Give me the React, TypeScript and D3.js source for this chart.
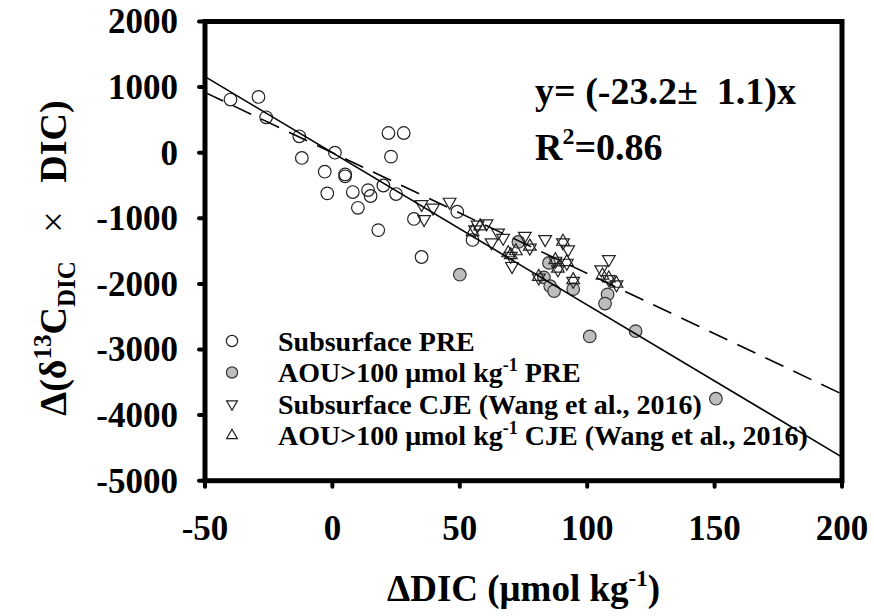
import * as d3 from "d3";

// Subsurface PRE (open circles) [ΔDIC, Δ(δ13C × DIC)]
const prePoints: [number, number][] = [
  [-40, 810], [-29, 850], [-26, 540], [-13, 250], [-12, -80], [1, 0],
  [-3, -290], [5, -330], [5, -360], [-2, -620], [8, -600], [14, -570],
  [15, -660], [10, -840], [20, -500], [25, -630], [22, 300], [28, 300],
  [23, -60], [18, -1180], [32, -1010], [35, -1590], [49, -900], [55, -1330],
];

// AOU>100 PRE (grey circles)
const aouPrePoints: [number, number][] = [
  [50, -1860], [73, -1360], [85, -1680], [83, -1900], [85.5, -2035],
  [87, -2110], [94.5, -2080], [108, -2160], [107, -2300], [101, -2800],
  [119, -2720], [150.5, -3750],
];

// Subsurface CJE (down triangles)
const cjePoints: [number, number][] = [
  [35, -785], [36, -1015], [39.5, -840], [46, -750], [56, -1170],
  [60.5, -1080], [65, -1220], [62.5, -1370], [75.5, -1270], [70, -1575],
  [70.5, -1730], [77.5, -1450], [83.5, -1320], [81, -1905], [90.5, -1370],
  [92.5, -1475], [87.5, -1650], [92, -1680], [88.5, -1780], [94.5, -1955],
  [108.5, -1625], [105.5, -1780], [108.5, -1930], [111.5, -2010],
  [57, -1100], [67, -1300],
];

// AOU>100 CJE (up triangles)
const aouCjePoints: [number, number][] = [
  [55, -1210], [58, -1120], [70, -1560], [72, -1500], [77.5, -1430],
  [81, -1890], [87.5, -1635], [90.5, -1355], [92, -1665], [88.5, -1765],
  [94.5, -1940], [108.5, -1915], [111.5, -1995], [106, -1870], [69, -1530],
];

const slopeAll = -23.2; // solid fit
const slopeCje = -18.4; // dashed fit

const xTicks = [-50, 0, 50, 100, 150, 200];
const yTicks = [2000, 1000, 0, -1000, -2000, -3000, -4000, -5000];

const W = 874;
const H = 616;
const frame = { left: 205, right: 842, top: 21.5, bottom: 480.7 };
const font = "'Liberation Serif', 'Times New Roman', serif";

export default function App() {
  const x = d3.scaleLinear().domain([-50, 200]).range([frame.left, frame.right]);
  const y = d3.scaleLinear().domain([-5000, 2000]).range([frame.bottom, frame.top]);

  const tri = d3.symbol(d3.symbolTriangle, 70)()!;
  const triSmall = d3.symbol(d3.symbolTriangle, 50)()!;

  const fitLine = (slope: number) =>
    d3.line<number>()
      .x((d) => x(d))
      .y((d) => y(slope * d))([-50, 200])!;

  const legend = [
    { kind: "open", label: ["Subsurface PRE"] },
    { kind: "grey", label: ["AOU>100 \u03bcmol kg", "-1", " PRE"] },
    { kind: "down", label: ["Subsurface CJE (Wang et al., 2016)"] },
    { kind: "up", label: ["AOU>100 \u03bcmol kg", "-1", " CJE (Wang et al., 2016)"] },
  ];

  return (
    <svg
      width={W}
      height={H}
      style={{ position: "absolute", left: 0, top: 0, background: "white" }}
      fontFamily={font}
      fontWeight="bold"
    >
      <defs>
        <clipPath id="plot">
          <rect x={frame.left} y={frame.top} width={frame.right - frame.left} height={frame.bottom - frame.top} />
        </clipPath>
      </defs>

      {/* markers */}
      <g>
        {prePoints.map((d, i) => (
          <circle key={"p" + i} cx={x(d[0])} cy={y(d[1])} r={6.3} fill="none" stroke="#222" strokeWidth={1.2} />
        ))}
        {aouPrePoints.map((d, i) => (
          <circle key={"g" + i} cx={x(d[0])} cy={y(d[1])} r={6.3} fill="#bdbdbd" stroke="#333" strokeWidth={1.2} />
        ))}
        {cjePoints.map((d, i) => (
          <path key={"d" + i} d={tri} transform={`translate(${x(d[0])},${y(d[1])}) rotate(180)`}
            fill="none" stroke="#222" strokeWidth={1.2} />
        ))}
        {aouCjePoints.map((d, i) => (
          <path key={"u" + i} d={tri} transform={`translate(${x(d[0])},${y(d[1])})`}
            fill="none" stroke="#222" strokeWidth={1.2} />
        ))}
      </g>

      {/* regression lines */}
      <g clipPath="url(#plot)">
        <path d={fitLine(slopeAll)} stroke="#000" strokeWidth={1.6} fill="none" />
        <path d={fitLine(slopeCje)} stroke="#000" strokeWidth={1.6} fill="none" strokeDasharray="20 11" />
      </g>

      {/* frame */}
      <rect x={frame.left} y={frame.top} width={frame.right - frame.left} height={frame.bottom - frame.top}
        fill="none" stroke="#000" strokeWidth={5} />

      {/* y ticks */}
      {yTicks.map((t) => (
        <g key={"yt" + t}>
          <line x1={frame.left} x2={frame.left - 6} y1={y(t)} y2={y(t)} stroke="#000" strokeWidth={4} strokeLinecap="round" />
          <text x={178} y={y(t)} dy="0.34em" textAnchor="end" fontSize={35}>{t}</text>
        </g>
      ))}

      {/* x ticks */}
      {xTicks.map((t) => (
        <g key={"xt" + t}>
          <line x1={x(t)} x2={x(t)} y1={frame.bottom} y2={frame.bottom + 6} stroke="#000" strokeWidth={4} strokeLinecap="round" />
          <text x={x(t)} y={540} textAnchor="middle" fontSize={35}>{t}</text>
        </g>
      ))}

      {/* axis titles */}
      <text x={(frame.left + frame.right) / 2} y={601} textAnchor="middle" fontSize={37}>
        {"\u0394DIC (\u03bcmol kg"}
        <tspan fontSize={23} dy={-15}>-1</tspan>
        <tspan dy={15}>)</tspan>
      </text>

      <text
        transform={`translate(66,258) rotate(-90)`}
        textAnchor="middle"
        fontSize={38}
        style={{ whiteSpace: "pre" }}
      >
        {"\u0394(\u03b4"}
        <tspan fontSize={25} dy={-15}>13</tspan>
        <tspan dy={15}>C</tspan>
        <tspan fontSize={25} dy={9}>DIC</tspan>
        <tspan dy={-9} fontWeight="normal">{"   \u00d7   "}</tspan>
        <tspan>DIC)</tspan>
      </text>

      {/* equation */}
      <text x={535} y={104} fontSize={38} style={{ whiteSpace: "pre" }}>{"y= (-23.2\u00b1  1.1)x"}</text>
      <text x={535} y={160} fontSize={38}>
        R<tspan fontSize={24} dy={-16}>2</tspan>
        <tspan dy={16}>=0.86</tspan>
      </text>

      {/* legend */}
      {legend.map((l, i) => {
        const cy = 341 + i * 31.5;
        const mx = 232;
        return (
          <g key={"lg" + i}>
            {l.kind === "open" && <circle cx={mx} cy={cy} r={5.6} fill="none" stroke="#222" strokeWidth={1.2} />}
            {l.kind === "grey" && <circle cx={mx} cy={cy} r={5.6} fill="#bdbdbd" stroke="#333" strokeWidth={1.2} />}
            {l.kind === "down" && (
              <path d={triSmall} transform={`translate(${mx},${cy}) rotate(180)`} fill="none" stroke="#222" strokeWidth={1.2} />
            )}
            {l.kind === "up" && (
              <path d={triSmall} transform={`translate(${mx},${cy})`} fill="none" stroke="#222" strokeWidth={1.2} />
            )}
            <text x={278} y={cy} dy="0.35em" fontSize={28}>
              {l.label[0]}
              {l.label.length > 1 && (
                <>
                  <tspan fontSize={18} dy={-11}>{l.label[1]}</tspan>
                  <tspan dy={11}>{l.label[2]}</tspan>
                </>
              )}
            </text>
          </g>
        );
      })}
    </svg>
  );
}
